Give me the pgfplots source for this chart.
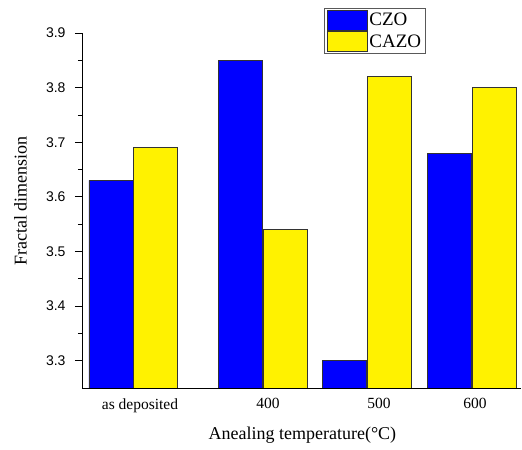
\documentclass[border=0pt]{standalone}
\usepackage{fontspec}
\setmainfont{Liberation Serif}
\setsansfont{Liberation Sans}
\usepackage{pgfplots}
\pgfplotsset{compat=1.18}
\pgfplotsset{mylegend/.style={legend image code/.code={\draw[##1] (0bp,-10bp) rectangle (40bp,10bp);}}}
\begin{document}
\begin{tikzpicture}
\useasboundingbox (-82bp,-62bp) rectangle (440bp,388bp);
\begin{axis}[
  scale only axis, width=439bp, height=355bp,
  xmin=82, xmax=521, ymin=3.25, ymax=3.9,
  axis x line*=bottom, axis y line*=left,
  axis line style={line width=0.9bp, -},
  tick align=outside,
  major tick length=7bp, minor tick length=4bp,
  every tick/.style={black, line width=0.8bp},
  ytick={3.3,3.4,3.5,3.6,3.7,3.8,3.9},
  minor y tick num=1,
  yticklabel style={font=\sffamily\fontsize{14bp}{16bp}\selectfont, xshift=-6bp, /pgf/number format/assume math mode=true, /pgf/number format/fixed, /pgf/number format/precision=1, /pgf/number format/fixed zerofill},
  xtick={140,268,379,475},
  xticklabels={as deposited,\raisebox{-4bp}{400},\raisebox{-3bp}{500},\raisebox{-5bp}{600}},
  x tick style={draw=none},
  minor xtick={107,158,237,263,419,444},
  minor x tick style={black, line width=0.8bp},
  xticklabel style={font=\fontsize{15.5bp}{17bp}\selectfont, anchor=north},
  xlabel={Anealing temperature(°C)},
  ylabel={Fractal dimension},
  label style={font=\fontsize{18bp}{20bp}\selectfont},
  xlabel style={at={(axis description cs:0.502,-0.132)}, anchor=center},
  ylabel style={at={(axis description cs:-0.140,0.527)}, anchor=center},
  legend style={at={(rel axis cs:0.552,1.070)}, anchor=north west,
    draw=gray!70!black, line width=0.8bp, inner xsep=2bp, inner ysep=1bp,
    font=\fontsize{19bp}{20bp}\selectfont, row sep=1bp,
    cells={anchor=west}},
]
\addplot[ybar, bar width=44, bar shift=0pt, fill=blue, draw=black!80, line width=0.7bp, mylegend]
  coordinates {(111,3.63) (240.5,3.85) (344.5,3.30) (449,3.68)};
\addlegendentry{CZO}
\addplot[ybar, bar width=44, bar shift=0pt, fill=yellow, draw=black!80, line width=0.7bp, mylegend]
  coordinates {(155.5,3.69) (285.5,3.54) (389.5,3.82) (494,3.80)};
\addlegendentry{CAZO}
\end{axis}
\end{tikzpicture}
\end{document}
